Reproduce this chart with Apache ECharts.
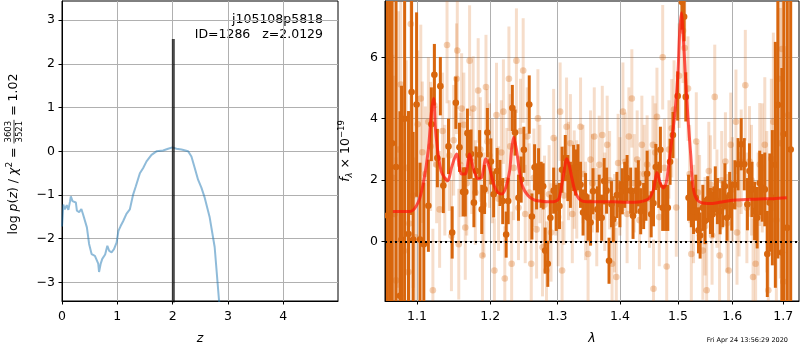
<!DOCTYPE html>
<html>
<head>
<meta charset="utf-8">
<script src="https://cdn.jsdelivr.net/npm/echarts@6/dist/echarts.min.js"></script>
<style>
  html, body { margin: 0; padding: 0; background: #fff; }
  #myChart { width: 800px; height: 350px; }
</style>
</head>
<body>
<div id="myChart"></div>
<script>
// ---- p(z) panel ----
var pzZ = [0, 0.024, 0.05, 0.086, 0.115, 0.146, 0.16, 0.19, 0.25, 0.27, 0.31, 0.34, 0.35, 0.38, 0.45, 0.49, 0.535, 0.595, 0.62, 0.655, 0.67, 0.70, 0.728, 0.78, 0.82, 0.854, 0.896, 0.94, 0.987, 1.02, 1.06, 1.105, 1.165, 1.226, 1.286, 1.335, 1.408, 1.468, 1.528, 1.618, 1.708, 1.828, 1.918, 1.997, 2.07, 2.16, 2.28, 2.34, 2.40, 2.46, 2.52, 2.58, 2.67, 2.76, 2.84, 2.9]
var pzLogp = [-1.72, -1.22, -1.33, -1.23, -1.34, -1.14, -1.03, -1.14, -1.17, -1.36, -1.39, -1.36, -1.32, -1.44, -1.74, -2.12, -2.35, -2.39, -2.42, -2.57, -2.76, -2.57, -2.46, -2.36, -2.16, -2.28, -2.31, -2.24, -2.09, -1.82, -1.71, -1.60, -1.43, -1.33, -0.99, -0.80, -0.50, -0.38, -0.23, -0.08, 0.00, 0.02, 0.06, 0.09, 0.06, 0.04, 0.00, -0.12, -0.38, -0.65, -0.83, -1.06, -1.51, -2.19, -3.43, -4.0]
var zBest = 2.0129
var zBarTop = 2.57
var zTicks = [0, 1, 2, 3, 4]
var logpTicks = [-3, -2, -1, 0, 1, 2, 3]
var zMin = 0, zMax = 4.99
var logpMin = -3.425, logpMax = 3.44

// ---- spectrum panel ----
var lamTicks = [1.1, 1.2, 1.3, 1.4, 1.5, 1.6, 1.7]
var fluxTicks = [0, 2, 4, 6]
var lamMin = 1.059, lamMax = 1.732
var fluxMin = -1.93, fluxMax = 7.83

var modelWave = [1.069, 1.091, 1.102, 1.109, 1.115, 1.119, 1.122, 1.125, 1.132, 1.141, 1.146, 1.153, 1.160, 1.165, 1.171, 1.176, 1.183, 1.188, 1.194, 1.199, 1.206, 1.211, 1.217, 1.223, 1.228, 1.231, 1.234, 1.238, 1.243, 1.247, 1.255, 1.265, 1.274, 1.284, 1.294, 1.302, 1.307, 1.311, 1.314, 1.318, 1.323, 1.328, 1.336, 1.347, 1.368, 1.389, 1.411, 1.434, 1.449, 1.457, 1.463, 1.469, 1.474, 1.479, 1.483, 1.487, 1.491, 1.496, 1.500, 1.503, 1.506, 1.509, 1.513, 1.518, 1.523, 1.527, 1.533, 1.542, 1.558, 1.576, 1.600, 1.627, 1.653, 1.680, 1.707]
var modelFlux = [0.98, 0.98, 1.30, 2.00, 3.00, 4.20, 4.66, 3.50, 2.30, 1.98, 2.40, 2.85, 2.20, 2.20, 2.85, 2.40, 2.05, 2.10, 2.70, 2.40, 1.80, 1.60, 1.55, 1.80, 2.30, 3.00, 3.40, 3.00, 2.20, 1.80, 1.50, 1.35, 1.32, 1.30, 1.30, 1.40, 1.90, 2.40, 2.70, 2.50, 2.00, 1.60, 1.35, 1.30, 1.30, 1.30, 1.28, 1.30, 1.40, 1.70, 2.25, 1.90, 1.75, 1.90, 2.40, 3.00, 3.60, 4.50, 5.50, 6.80, 7.45, 6.80, 5.50, 4.00, 2.80, 1.80, 1.40, 1.27, 1.24, 1.28, 1.35, 1.37, 1.39, 1.40, 1.43]

// dark points (binned)
var specWave = [1.062, 1.065, 1.068, 1.073, 1.078, 1.080, 1.084, 1.089, 1.093, 1.095, 1.0995, 1.104, 1.109, 1.115, 1.119, 1.123, 1.127, 1.131, 1.135, 1.142, 1.147, 1.152, 1.157, 1.162, 1.165, 1.168, 1.170, 1.173, 1.177, 1.180, 1.185, 1.188, 1.192, 1.196, 1.201, 1.205, 1.210, 1.214, 1.218, 1.223, 1.226, 1.232, 1.236, 1.241, 1.245, 1.249, 1.257, 1.261, 1.265, 1.268, 1.271, 1.275, 1.278, 1.281, 1.285, 1.289, 1.294, 1.298, 1.303, 1.307, 1.312, 1.316, 1.320, 1.325, 1.328, 1.332, 1.336, 1.340, 1.344, 1.348, 1.352, 1.356, 1.363, 1.366, 1.370, 1.374, 1.378, 1.382, 1.386, 1.389, 1.395, 1.400, 1.404, 1.408, 1.412, 1.418, 1.422, 1.427, 1.431, 1.435, 1.440, 1.444, 1.446, 1.453, 1.457, 1.461, 1.466, 1.469, 1.473, 1.478, 1.482, 1.486, 1.491, 1.4995, 1.507, 1.511, 1.514, 1.519, 1.524, 1.528, 1.532, 1.537, 1.540, 1.545, 1.549, 1.554, 1.559, 1.563, 1.568, 1.572, 1.577, 1.582, 1.586, 1.590, 1.595, 1.599, 1.605, 1.611, 1.617, 1.623, 1.629, 1.633, 1.638, 1.643, 1.648, 1.653, 1.658, 1.663, 1.668, 1.673, 1.678, 1.684, 1.689, 1.697, 1.701, 1.708, 1.715]
var specFlux = [0.85, 5.87, 3.2, 2.43, -1.76, 0.07, 4.0, 0.25, 4.87, 0.07, 4.46, 0.07, -0.08, 1.17, 3.82, 5.43, 2.72, 5.06, 1.83, 3.1, 0.3, 4.52, 3.07, 1.62, 1.62, 3.53, 2.83, 2.85, 1.27, 2.3, 2.83, 1.05, 1.7, 3.55, 2.61, 1.54, 2.3, 1.91, 1.32, 0.23, 1.32, 4.35, 3.55, 1.43, 2.02, 2.99, 4.46, 0.82, 2.42, 1.8, 2.29, 1.85, 1.8, -0.29, -0.72, 0.78, 1.66, 1.1, 1.16, 2.34, 2.72, 2.07, 1.85, 2.4, 2.25, 2.42, 1.85, 0.95, 1.48, 0.78, 0.62, 1.64, 1.05, 1.43, 0.78, 1.97, 1.66, -0.62, 1.22, 0.73, 1.52, 1.22, 1.64, 1.85, 2.07, 1.66, 0.84, 1.66, 1.9, 0.99, 1.16, 1.43, 2.21, 0.89, 1.25, 2.43, 1.85, 2.99, 1.1, 1.1, 1.1, 2.6, 3.47, 4.74, 7.8, 7.32, 4.71, 1.43, 1.22, 1.0, 1.43, 0.37, 0.2, 1.1, 0.67, 1.38, 1.0, 0.89, 1.7, 1.32, 0.99, 1.22, 1.8, 0.78, 1.52, 1.16, 1.85, 2.52, 3.17, 2.52, 1.22, 2.3, 1.7, 1.0, 0.78, 1.91, 1.75, 1.7, -0.4, 1.27, 1.43, 2.5, 4.45, -0.35, 3.5, 0.45, 3.0]
var specErr = [9, 9, 8, 7, 6, 5, 6, 4, 4, 3.5, 3, 2.5, 2.0, 1.5, 1.2, 1.0, 0.95, 0.95, 0.9, 0.9, 0.85, 0.85, 0.8, 0.8, 0.8, 0.8, 0.8, 0.8, 0.8, 0.8, 0.8, 0.8, 0.8, 0.8, 0.75, 0.75, 0.75, 0.75, 0.75, 0.75, 0.75, 0.75, 0.75, 0.75, 0.75, 0.75, 0.95, 0.75, 0.75, 0.75, 0.75, 0.75, 0.75, 0.75, 0.75, 0.75, 0.75, 0.75, 0.75, 0.75, 0.75, 0.75, 0.75, 0.75, 0.75, 0.75, 0.75, 0.75, 0.75, 0.75, 0.75, 0.75, 0.75, 0.75, 0.75, 0.75, 0.75, 0.75, 0.75, 0.75, 0.75, 0.75, 0.75, 0.75, 0.75, 0.75, 0.75, 0.75, 0.75, 0.75, 0.75, 0.75, 0.75, 0.75, 0.75, 0.75, 0.75, 0.75, 0.75, 0.75, 0.75, 0.75, 0.75, 0.8, 0.9, 0.8, 0.8, 0.75, 0.75, 0.75, 0.75, 0.75, 0.75, 0.75, 0.75, 0.75, 0.75, 0.75, 0.75, 0.75, 0.75, 0.75, 0.75, 0.75, 0.75, 0.8, 0.8, 0.85, 0.85, 0.85, 0.85, 0.9, 0.9, 0.95, 1.0, 1.05, 1.1, 1.2, 1.4, 1.6, 2.2, 4, 5, 6, 7, 9, 10]

// faint points (unbinned)
var bgWave = [1.069, 1.071, 1.073, 1.076, 1.079, 1.083, 1.086, 1.089, 1.090, 1.092, 1.095, 1.098, 1.101, 1.105, 1.107, 1.111, 1.115, 1.118, 1.121, 1.123, 1.126, 1.130, 1.134, 1.137, 1.140, 1.143, 1.146, 1.149, 1.153, 1.154, 1.156, 1.158, 1.160, 1.163, 1.165, 1.167, 1.171, 1.174, 1.176, 1.179, 1.183, 1.186, 1.189, 1.191, 1.194, 1.196, 1.199, 1.203, 1.206, 1.209, 1.212, 1.216, 1.219, 1.221, 1.224, 1.227, 1.229, 1.231, 1.234, 1.238, 1.241, 1.244, 1.248, 1.251, 1.254, 1.257, 1.260, 1.264, 1.268, 1.270, 1.273, 1.277, 1.280, 1.283, 1.287, 1.290, 1.294, 1.297, 1.301, 1.304, 1.307, 1.310, 1.314, 1.317, 1.320, 1.323, 1.326, 1.330, 1.336, 1.340, 1.344, 1.348, 1.352, 1.355, 1.358, 1.362, 1.366, 1.371, 1.375, 1.379, 1.383, 1.387, 1.391, 1.394, 1.397, 1.400, 1.405, 1.409, 1.412, 1.415, 1.420, 1.424, 1.429, 1.433, 1.437, 1.441, 1.446, 1.450, 1.456, 1.457, 1.460, 1.463, 1.467, 1.473, 1.476, 1.480, 1.484, 1.489, 1.493, 1.497, 1.502, 1.509, 1.512, 1.518, 1.521, 1.524, 1.528, 1.533, 1.536, 1.539, 1.545, 1.549, 1.552, 1.556, 1.559, 1.562, 1.567, 1.571, 1.576, 1.580, 1.587, 1.590, 1.593, 1.597, 1.600, 1.607, 1.609, 1.613, 1.617, 1.625, 1.628, 1.633, 1.637, 1.640, 1.645, 1.650, 1.653, 1.658, 1.663, 1.667, 1.670, 1.676, 1.680, 1.686, 1.690, 1.694, 1.697, 1.700, 1.705, 1.710]
var bgFlux = [2.08, 0.90, -1.26, 3.00, 5.11, -0.30, 2.40, -0.99, 0.59, 7.08, 1.50, 0.14, 3.82, 4.66, 2.91, 2.20, 3.90, 3.10, -1.58, 4.44, 2.50, 1.05, 3.60, 2.00, 6.40, 2.80, 0.19, 3.30, 5.30, 6.22, -0.08, 2.50, 4.33, 3.80, 0.46, 1.90, 5.89, 2.60, 4.33, 1.60, 4.92, 3.00, -0.45, 1.20, 5.03, 3.26, 2.80, 2.30, -0.94, 4.12, 1.40, 2.90, 4.23, -1.20, 2.00, 5.30, 3.10, -0.72, 2.40, 5.89, 1.10, 3.60, 5.57, 0.90, 3.42, 1.60, -0.72, 2.08, 0.40, 4.01, 2.20, -0.18, 1.20, -0.94, 1.54, 0.30, 3.37, 1.80, 0.80, 4.23, -0.94, 1.50, 3.74, 2.30, 3.20, 0.90, 2.02, 1.70, 3.74, 2.20, 1.00, -0.40, 2.67, 1.90, 3.42, 0.80, 2.50, 3.47, 1.30, 3.15, 2.00, -0.72, 0.60, -1.15, 2.56, 1.80, 4.23, 2.60, 0.90, 3.42, 4.66, 1.90, 2.67, 0.70, 3.15, 2.20, 2.51, 1.40, 3.15, -1.53, 2.90, 4.06, 0.80, 6.00, 2.40, -0.81, 3.00, 3.69, 4.30, 1.11, 5.40, 6.86, 6.30, 4.98, 2.20, -0.40, 0.90, 3.26, 1.60, 1.22, -0.29, 0.50, -1.58, 2.30, 1.86, 0.20, 4.71, 1.40, -0.45, 2.00, 2.61, 0.60, -0.94, 3.15, 1.70, 3.90, 0.30, 1.22, 2.60, 5.09, 1.10, 2.61, 2.00, -1.15, -0.72, 0.90, 2.51, 2.40, 3.15, 1.30, -1.58, 2.70, 3.90, 0.70, 5.30, 3.20, 6.27, -1.30, 0.46, 4.12]
var bgErr = [4.0, 4.5, 4.0, 4.5, 3.5, 3.5, 3.5, 3.0, 3.0, 3.0, 3.0, 2.6, 2.4, 2.4, 2.3, 2.2, 2.1, 2.1, 2.0, 2.0, 1.9, 1.9, 1.9, 1.8, 1.9, 1.8, 1.8, 1.8, 1.8, 1.9, 1.8, 1.7, 1.8, 1.7, 1.7, 1.7, 1.8, 1.7, 1.7, 1.7, 1.7, 1.7, 1.7, 1.7, 1.7, 1.7, 1.7, 1.7, 1.7, 1.7, 1.7, 1.7, 1.7, 1.7, 1.7, 1.7, 1.7, 1.7, 1.7, 1.7, 1.7, 1.7, 1.7, 1.6, 1.6, 1.6, 1.6, 1.6, 1.6, 1.6, 1.6, 1.6, 1.6, 1.6, 1.6, 1.6, 1.6, 1.6, 1.6, 1.6, 1.6, 1.6, 1.6, 1.6, 1.6, 1.6, 1.6, 1.6, 1.6, 1.6, 1.6, 1.6, 1.6, 1.6, 1.6, 1.6, 1.6, 1.6, 1.6, 1.6, 1.6, 1.6, 1.6, 1.6, 1.6, 1.6, 1.6, 1.6, 1.6, 1.6, 1.6, 1.6, 1.6, 1.6, 1.6, 1.6, 1.6, 1.6, 1.6, 1.6, 1.6, 1.6, 1.6, 1.7, 1.6, 1.6, 1.6, 1.6, 1.6, 1.6, 1.7, 1.7, 1.7, 1.7, 1.6, 1.6, 1.6, 1.6, 1.6, 1.6, 1.6, 1.6, 1.6, 1.6, 1.6, 1.6, 1.7, 1.6, 1.6, 1.6, 1.6, 1.6, 1.6, 1.7, 1.7, 1.7, 1.7, 1.7, 1.7, 1.8, 1.8, 1.8, 1.8, 1.9, 1.9, 2.0, 2.0, 2.1, 2.2, 2.3, 2.4, 2.6, 2.9, 3.4, 3.9, 4.4, 4.9, 5.4, 5.9, 6.4]

var FONT = '"DejaVu Sans", sans-serif'
var ORANGE = '#d8660d'
var GRIDLINE = '#b0b0b0'

function minusFmt(v) {
  return v < 0 ? '\u2212' + Math.abs(v) : String(v)
}

// shared axis look (matplotlib-ish)
function mplAxis(extra) {
  var ax = {
    type: 'value',
    axisLine: { show: true, onZero: false, lineStyle: { color: '#000', width: 1 } },
    axisTick: { show: true, inside: false, length: 3.5, lineStyle: { color: '#000', width: 1 } },
    axisLabel: { color: '#000', fontSize: 12.5, fontFamily: FONT, margin: 7 },
    splitLine: { show: true, lineStyle: { color: GRIDLINE, width: 1 } }
  }
  for (var k in extra) {
    if (typeof extra[k] === 'object' && ax[k] && !Array.isArray(extra[k])) {
      ax[k] = Object.assign({}, ax[k], extra[k])
    } else {
      ax[k] = extra[k]
    }
  }
  return ax
}

function errorBarItem(barColor, dotColor, lw, r) {
  return function (params, api) {
    var x = api.value(0), y = api.value(1), e = api.value(2)
    var lo = api.coord([x, y - e])
    var hi = api.coord([x, y + e])
    var c = api.coord([x, y])
    return {
      type: 'group',
      children: [
        { type: 'line', shape: { x1: lo[0], y1: lo[1], x2: hi[0], y2: hi[1] }, style: { stroke: barColor, lineWidth: lw } },
        { type: 'circle', shape: { cx: c[0], cy: c[1], r: r }, style: { fill: dotColor } }
      ]
    }
  }
}

// y label of left panel with a stacked fraction
var measureCtx = document.createElement('canvas').getContext('2d')
function textW(t, font) {
  measureCtx.font = font
  return measureCtx.measureText(t).width
}
var NORM = '12.5px "DejaVu Sans"'
var ITAL = 'italic 12.5px "DejaVu Sans"'
var SMALL = '9px "DejaVu Sans"'
var FRAC = '8.5px "DejaVu Sans"'
var nameParts = [
  { t: 'log ', f: NORM }, { t: 'p', f: ITAL }, { t: '(', f: NORM }, { t: 'z', f: ITAL },
  { t: ') / ', f: NORM }, { t: '\u03c7', f: ITAL }, { t: '2', f: SMALL, dy: -4.5 },
  { t: ' = ', f: NORM }, { frac: ['3603', '3521'] }, { t: ' = 1.02', f: NORM }
]
var total = 0
nameParts.forEach(function (p) {
  p.w = p.frac ? Math.max(textW(p.frac[0], FRAC), textW(p.frac[1], FRAC)) + 2 : textW(p.t, p.f)
  total += p.w
})
var children = []
var pos = -total / 2
nameParts.forEach(function (p) {
  if (p.frac) {
    children.push({ type: 'text', x: pos + p.w / 2, y: -5, style: { text: p.frac[0], font: FRAC, fill: '#000', textAlign: 'center', textVerticalAlign: 'middle', align: 'center', verticalAlign: 'middle' } })
    children.push({ type: 'text', x: pos + p.w / 2, y: 5.5, style: { text: p.frac[1], font: FRAC, fill: '#000', textAlign: 'center', textVerticalAlign: 'middle', align: 'center', verticalAlign: 'middle' } })
    children.push({ type: 'line', shape: { x1: pos, y1: 0, x2: pos + p.w, y2: 0 }, style: { stroke: '#000', lineWidth: 0.8 } })
  } else {
    children.push({ type: 'text', x: pos, y: p.dy || 0, style: { text: p.t, font: p.f, fill: '#000', textAlign: 'left', textVerticalAlign: 'middle', align: 'left', verticalAlign: 'middle' } })
  }
  pos += p.w
})

var myChart = echarts.init(document.getElementById('myChart'))

var pzData = pzZ.map(function (z, i) { return [z, pzLogp[i]] })
var zBarData = [[zBest, logpMin - 1], [zBest, zBarTop]]
var modelData = modelWave.map(function (w, i) { return [Math.log(w), modelFlux[i]] })
var specData = specWave.map(function (w, i) { return [Math.log(w), specFlux[i], specErr[i]] })
var bgData = bgWave.map(function (w, i) { return [Math.log(w), bgFlux[i], bgErr[i]] })
var lamTickPos = lamTicks.map(function (w) { return Math.log(w) })

myChart.setOption({
  animation: false,
  backgroundColor: '#fff',
  grid: [
    { left: 62, top: 1, width: 276, height: 303, show: true, borderColor: '#000', borderWidth: 1, backgroundColor: 'transparent' },
    { left: 385, top: 1, width: 414, height: 303, show: true, borderColor: '#000', borderWidth: 1, backgroundColor: 'transparent' }
  ],
  xAxis: [
    mplAxis({
      gridIndex: 0, min: zMin, max: zMax,
      axisTick: { customValues: zTicks },
      axisLabel: { customValues: zTicks, margin: 9 },
      name: 'z', nameLocation: 'middle', nameGap: 31,
      nameTextStyle: { fontStyle: 'italic', fontSize: 12.5, fontFamily: FONT, color: '#000' }
    }),
    mplAxis({
      gridIndex: 1, min: Math.log(lamMin), max: Math.log(lamMax),
      axisTick: { customValues: lamTickPos },
      axisLabel: { customValues: lamTickPos, margin: 9, formatter: function (v) { return Math.exp(v).toFixed(1) } },
      name: '\u03bb', nameLocation: 'middle', nameGap: 31,
      nameTextStyle: { fontStyle: 'italic', fontSize: 12.5, fontFamily: FONT, color: '#000' }
    })
  ],
  yAxis: [
    mplAxis({
      gridIndex: 0, min: logpMin, max: logpMax,
      axisTick: { customValues: logpTicks },
      axisLabel: { customValues: logpTicks, formatter: minusFmt }
    }),
    mplAxis({
      gridIndex: 1, min: fluxMin, max: fluxMax,
      axisTick: { customValues: fluxTicks },
      axisLabel: { customValues: fluxTicks, formatter: minusFmt },
      name: '{i|f}{s|\u03bb}{n| \u00d7 10}{p|\u221219}', nameLocation: 'middle', nameRotate: 90, nameGap: 28,
      nameTextStyle: {
        color: '#000', fontFamily: FONT,
        rich: {
          i: { fontStyle: 'italic', fontSize: 12.5, fontFamily: FONT, color: '#000', lineHeight: 22, verticalAlign: 'middle' },
          s: { fontStyle: 'italic', fontSize: 8.5, fontFamily: FONT, color: '#000', lineHeight: 22, verticalAlign: 'bottom', padding: [0, 0, 3, 0] },
          n: { fontSize: 12.5, fontFamily: FONT, color: '#000', lineHeight: 22, verticalAlign: 'middle' },
          p: { fontSize: 8.5, fontFamily: FONT, color: '#000', lineHeight: 22, verticalAlign: 'top', padding: [2, 0, 0, 0] }
        }
      }
    })
  ],
  graphic: [
    { type: 'group', x: 14, y: 154, rotation: Math.PI / 2, children: children },
    { type: 'text', x: 323, y: 20, style: { text: 'j105108p5818', font: NORM, fill: '#000', textAlign: 'right', textVerticalAlign: 'middle', align: 'right', verticalAlign: 'middle' } },
    { type: 'text', x: 323, y: 34.5, style: { text: 'ID=1286   z=2.0129', font: NORM, fill: '#000', textAlign: 'right', textVerticalAlign: 'middle', align: 'right', verticalAlign: 'middle' } },
    { type: 'text', x: 788, y: 340, style: { text: 'Fri Apr 24 13:56:29 2020', font: '6.5px "DejaVu Sans"', fill: '#000', textAlign: 'right', textVerticalAlign: 'middle', align: 'right', verticalAlign: 'middle' } }
  ],
  series: [
    {
      name: 'pz', type: 'line', xAxisIndex: 0, yAxisIndex: 0, data: pzData,
      showSymbol: false, lineStyle: { color: 'rgba(31,119,180,0.5)', width: 2 }, z: 3
    },
    {
      name: 'zbest', type: 'line', xAxisIndex: 0, yAxisIndex: 0, data: zBarData,
      showSymbol: false, lineStyle: { color: 'rgba(0,0,0,0.7)', width: 3 }, z: 4
    },
    {
      name: 'faint', type: 'custom', xAxisIndex: 1, yAxisIndex: 1, data: bgData, clip: true,
      encode: { x: 0, y: 1 },
      renderItem: errorBarItem('rgba(216,102,13,0.22)', 'rgba(216,102,13,0.3)', 3, 3.3), z: 2
    },
    {
      name: 'binned', type: 'custom', xAxisIndex: 1, yAxisIndex: 1, data: specData, clip: true,
      encode: { x: 0, y: 1 },
      renderItem: errorBarItem(ORANGE, ORANGE, 3, 3.3), z: 3
    },
    {
      name: 'model', type: 'line', xAxisIndex: 1, yAxisIndex: 1, data: modelData, smooth: 0.3,
      showSymbol: false, lineStyle: { color: 'rgba(255,20,10,0.7)', width: 3 }, z: 4
    },
    {
      name: 'zero', type: 'line', xAxisIndex: 1, yAxisIndex: 1, data: [], z: 5,
      markLine: {
        silent: true, symbol: 'none', label: { show: false },
        lineStyle: { color: '#000', type: [2, 3], width: 2 },
        data: [{ yAxis: 0 }]
      }
    }
  ]
})
</script>
</body>
</html>
